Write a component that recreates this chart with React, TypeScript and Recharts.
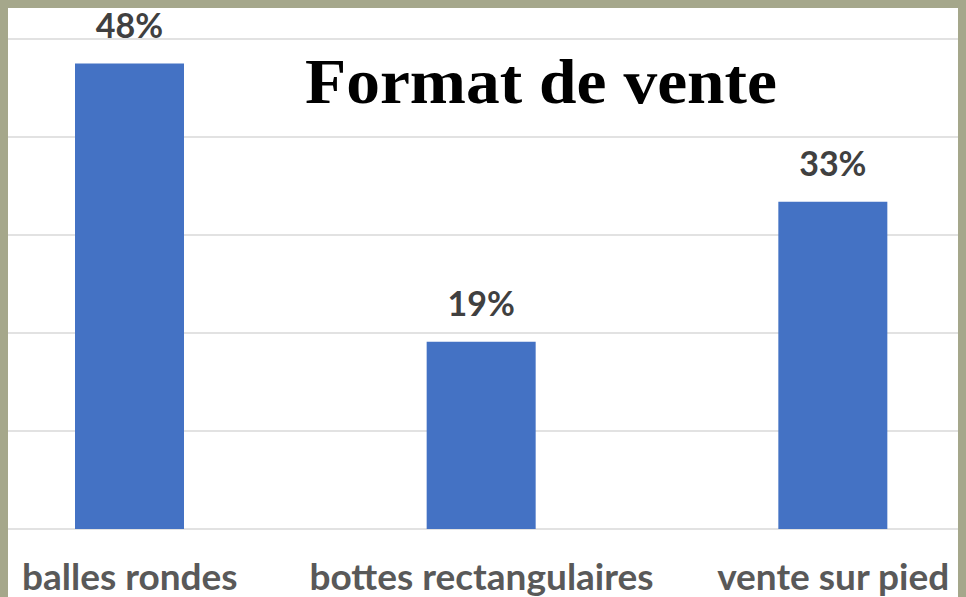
import React from "react";
import { BarChart, Bar, XAxis, YAxis, CartesianGrid, LabelList } from "recharts";

const categories = ["balles rondes", "bottes rectangulaires", "vente sur pied"];
const shares = [47.5, 19.1, 33.4];
const yTicks = [0, 10, 20, 30, 40, 50];

const data = categories.map((name, i) => ({ name, share: shares[i] }));

const BLUE = "#4472c4";
const GRID = "#d9d9d9";
const SANS = "Lato, 'Open Sans', sans-serif";

function CategoryTick({ x, payload }: any) {
  return (
    <text x={x} y={582} textAnchor="middle" fill="#595959" fontFamily={SANS} fontWeight={700} fontSize={37}>
      {payload.value}
    </text>
  );
}

function ShareLabel({ x, y, width, value }: any) {
  return (
    <text x={x + width / 2} y={y - 26} textAnchor="middle" fill="#404040" fontFamily={SANS} fontWeight={700} fontSize={34}>
      {Math.round(value)}%
    </text>
  );
}

export default function App() {
  return (
    <div style={{ position: "relative", width: 958, height: 589, background: "#fff", overflow: "hidden" }}>
      <style>{`body { background: #a5a78b; }`}</style>
      <div style={{ position: "absolute", left: -54, top: 0 }}>
        <BarChart width={1055} height={589} data={data} margin={{ top: 31, right: 0, bottom: 0, left: 0 }} barSize={109}>
          <CartesianGrid vertical={false} stroke={GRID} strokeWidth={1.5} />
          <XAxis dataKey="name" height={68} axisLine={false} tickLine={false} tick={<CategoryTick />} interval={0} />
          <YAxis hide domain={[0, 50]} ticks={yTicks} />
          <Bar dataKey="share" fill={BLUE} isAnimationActive={false}>
            <LabelList dataKey="share" content={<ShareLabel />} />
          </Bar>
        </BarChart>
      </div>
      <svg width={958} height={589} style={{ position: "absolute", left: 0, top: 0, pointerEvents: "none" }}>
        <text x={297} y={95} fontFamily="'Liberation Serif', serif" fontWeight={700} fontSize={64} fill="#000" textLength={472} lengthAdjust="spacingAndGlyphs">
          Format de vente
        </text>
      </svg>
    </div>
  );
}
